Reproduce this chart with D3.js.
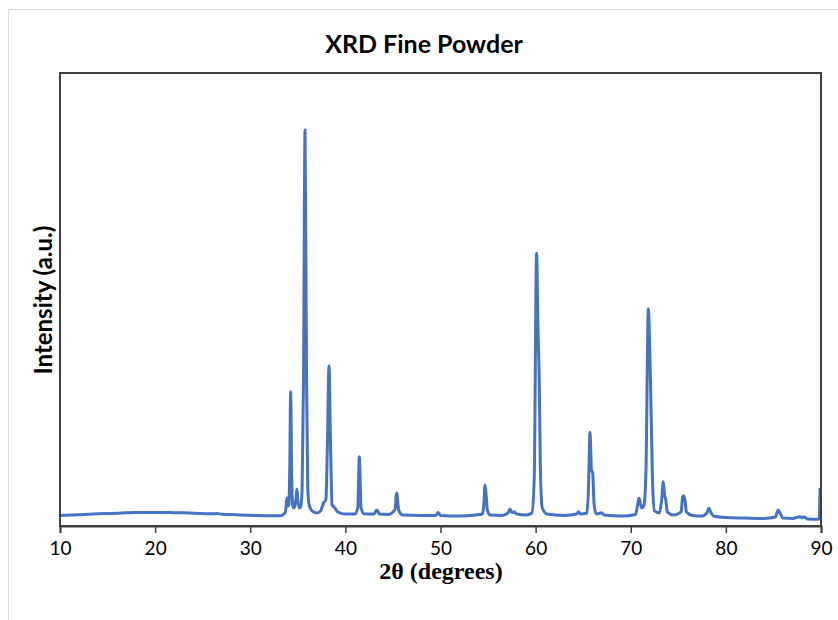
<!DOCTYPE html>
<html>
<head>
<meta charset="utf-8">
<script src="https://cdn.jsdelivr.net/npm/d3@7"></script>
<style>
  body { margin: 0; background: #fff; }
  svg { display: block; }
</style>
</head>
<body>
<div id="chart"></div>
<script>
// Chart data
const title = "XRD Fine Powder";
const xLabel = "2θ (degrees)";
const yLabel = "Intensity (a.u.)";
const xTicks = [10, 20, 30, 40, 50, 60, 70, 80, 90];

const twoTheta = [
  10.0, 11.0, 12.0, 13.0, 14.0, 15.0, 16.0, 17.0, 18.0, 19.0, 20.0, 21.0, 22.0, 23.0, 24.0, 25.0, 26.0, 26.5, 27.0, 28.0,
  29.0, 30.0, 31.0, 32.0, 33.0, 33.4, 33.7, 33.85, 34.0, 34.05, 34.15, 34.25, 34.35, 34.45, 34.6, 34.8, 34.9, 35.0, 35.15, 35.3,
  35.45, 35.6, 35.76, 35.92, 36.05, 36.2, 36.5, 37.0, 37.4, 37.7, 37.95, 38.1, 38.28, 38.45, 38.6, 38.9, 39.2, 40.0, 41.0, 41.3,
  41.47, 41.65, 42.0, 43.0, 43.3, 43.6, 44.5, 45.2, 45.4, 45.6, 46.0, 48.0, 49.5, 49.75, 50.0, 52.0, 53.7, 54.4, 54.55, 54.68,
  54.8, 54.92, 55.2, 56.5, 57.1, 57.3, 57.5, 57.75, 58.0, 59.0, 59.6, 59.85, 60.1, 60.25, 60.38, 60.5, 60.7, 61.2, 63.0, 64.3,
  64.5, 64.7, 65.4, 65.55, 65.72, 65.87, 66.0, 66.15, 66.4, 66.95, 67.2, 69.0, 70.5, 70.72, 70.87, 71.05, 71.15, 71.4, 71.6, 71.85,
  72.0, 72.13, 72.3, 72.5, 73.0, 73.25, 73.42, 73.55, 73.67, 73.85, 74.5, 75.3, 75.45, 75.55, 75.7, 75.85, 76.5, 77.5, 78.0, 78.22,
  78.4, 78.7, 80.0, 82.0, 84.0, 85.2, 85.5, 85.7, 86.0, 87.0, 87.8, 88.0, 88.2, 88.6, 89.5, 89.8, 89.9
];

const intensity = [
  116, 121, 124, 129, 135, 138, 141, 146, 148, 149, 148, 149, 147, 146, 141, 137, 134, 138, 130, 127,
  121, 118, 115, 113, 113, 121, 155, 309, 221, 232, 618, 1483, 618, 232, 199, 287, 408, 287, 199, 210,
  397, 1612, 4372, 1612, 397, 232, 166, 144, 166, 254, 287, 839, 1766, 839, 232, 199, 155, 132, 132, 199,
  765, 199, 132, 132, 177, 132, 127, 177, 364, 177, 121, 116, 116, 149, 116, 110, 121, 132, 232, 453,
  342, 177, 121, 116, 144, 188, 149, 158, 132, 121, 144, 508, 3011, 2164, 1612, 618, 199, 132, 116, 132,
  158, 132, 144, 397, 1034, 618, 588, 232, 132, 147, 121, 110, 127, 232, 306, 232, 199, 232, 618, 2396,
  1943, 1310, 453, 166, 144, 287, 489, 342, 298, 155, 121, 155, 320, 335, 287, 155, 116, 110, 144, 195,
  155, 110, 94, 88, 83, 99, 177, 144, 88, 83, 103, 88, 103, 77, 74, 77, 420
];

const data = twoTheta.map((t, i) => ({ x: t, y: intensity[i] }));

const width = 838, height = 620;
const frame = { left: 60, right: 821, top: 73, bottom: 526 };
const sansFont = "Lato, 'Open Sans', sans-serif";

const svg = d3.select("#chart")
  .append("svg")
  .attr("width", width)
  .attr("height", height);

// outer chart border (light gray)
svg.append("rect")
  .attr("x", 8.5).attr("y", 9.5)
  .attr("width", width).attr("height", height)
  .attr("fill", "none")
  .attr("stroke", "#d9d9d9")
  .attr("stroke-width", 1);

const xScale = d3.scaleLinear().domain([10, 90]).range([frame.left, frame.right]);
const yScale = d3.scaleLinear().domain([0, 5000]).range([frame.bottom, frame.top]);

// title
svg.append("text")
  .attr("x", 424).attr("y", 53)
  .attr("text-anchor", "middle")
  .attr("font-family", sansFont)
  .attr("font-weight", "bold")
  .attr("font-size", 25)
  .attr("fill", "#000")
  .text(title);

// clip so the trace stays inside the plot area
svg.append("clipPath").attr("id", "plot-clip")
  .append("rect")
  .attr("x", frame.left).attr("y", frame.top)
  .attr("width", frame.right - frame.left).attr("height", frame.bottom - frame.top);

const line = d3.line()
  .x(d => xScale(d.x))
  .y(d => yScale(d.y))
  .curve(d3.curveMonotoneX);

svg.append("path")
  .datum(data)
  .attr("clip-path", "url(#plot-clip)")
  .attr("fill", "none")
  .attr("stroke", "#4472c4")
  .attr("stroke-width", 3)
  .attr("stroke-linejoin", "round")
  .attr("d", line);

// plot area border
svg.append("rect")
  .attr("x", frame.left).attr("y", frame.top)
  .attr("width", frame.right - frame.left).attr("height", frame.bottom - frame.top)
  .attr("fill", "none")
  .attr("stroke", "#404040")
  .attr("stroke-width", 2);

// x axis
const xAxis = d3.axisBottom(xScale)
  .tickValues(xTicks)
  .tickSize(7)
  .tickPadding(9)
  .tickFormat(d3.format("d"));

const xAxisG = svg.append("g")
  .attr("transform", `translate(0,${frame.bottom})`)
  .call(xAxis);

xAxisG.select(".domain").attr("stroke", "#404040").attr("stroke-width", 2);
xAxisG.selectAll(".tick line").attr("stroke", "#404040").attr("stroke-width", 1.5);
xAxisG.selectAll(".tick text")
  .attr("font-family", sansFont)
  .attr("font-size", 19)
  .attr("fill", "#000");

// x label
svg.append("text")
  .attr("x", 441).attr("y", 579)
  .attr("text-anchor", "middle")
  .attr("font-family", "'Liberation Serif', 'DejaVu Serif', serif")
  .attr("font-weight", "bold")
  .attr("font-size", 24)
  .attr("fill", "#000")
  .text(xLabel);

// y label
svg.append("text")
  .attr("transform", "translate(52,300) rotate(-90)")
  .attr("text-anchor", "middle")
  .attr("font-family", sansFont)
  .attr("font-weight", "bold")
  .attr("font-size", 24)
  .attr("fill", "#000")
  .text(yLabel);
</script>
</body>
</html>
